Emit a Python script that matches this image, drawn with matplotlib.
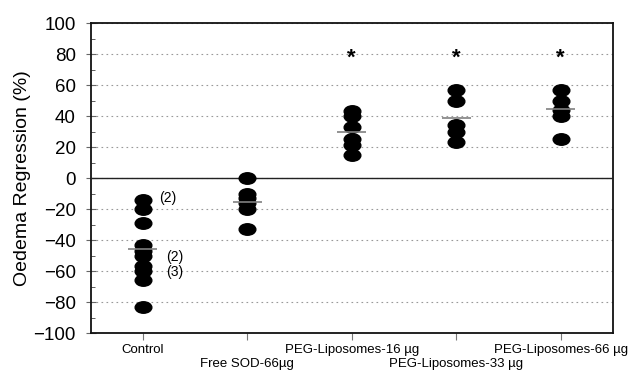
import matplotlib
matplotlib.use('Agg')
import matplotlib.pyplot as plt
from matplotlib.path import Path
from matplotlib.transforms import Affine2D
from matplotlib.ticker import MultipleLocator

plt.rcParams['font.family'] = ['Liberation Sans', 'DejaVu Sans']

groups = ['Control', 'Free SOD-66µg', 'PEG-Liposomes-16 µg',
          'PEG-Liposomes-33 µg', 'PEG-Liposomes-66 µg']
values = [
    [-14, -20, -29, -43, -47, -50, -57, -60, -66, -83],
    [0, -10, -13, -16, -20, -33],
    [43, 40, 33, 25, 21, 15],
    [57, 50, 34, 30, 23],
    [57, 50, 44, 40, 25],
]
means = [-46, -15.5, 30, 38.5, 44.5]
significant = [False, False, True, True, True]
star_level = 80
# (group index, value, label) for repeated points
repeat_labels = [(0, -14, '(2)'), (0, -50, '(2)'), (0, -60, '(3)')]

# flattened ellipse marker
ellipse = Path.unit_circle().transformed(Affine2D().scale(1.45, 1.0))

fig = plt.figure(figsize=(6.33, 3.70), dpi=100)
ax = fig.add_axes([0.1430, 0.100, 0.8254, 0.8378])

for i, vals in enumerate(values):
    ax.plot([i] * len(vals), vals, linestyle='none', marker=ellipse,
            markersize=12, color='black', zorder=4)
    ax.hlines(means[i], i - 0.14, i + 0.14, color='#808080', lw=1.2, zorder=5)
    if significant[i]:
        # asterisk glyph sits high in its box, nudge it down
        ax.annotate('*', (i, star_level), xytext=(0, -3), textcoords='offset points',
                    ha='center', va='center', fontsize=16, fontweight='bold', zorder=5)

for gi, v, lab in repeat_labels:
    dx = 12 if v > -30 else 17
    ax.annotate(lab, (gi, v), xytext=(dx, 1 if v > -30 else -1),
                textcoords='offset points', ha='left', va='center', fontsize=10)

ax.axhline(0, color='#222222', lw=1.0, zorder=3)

ax.set_xlim(-0.5, 4.5)
ax.set_ylim(-100, 100)
ax.yaxis.set_major_locator(MultipleLocator(20))
ax.yaxis.set_minor_locator(MultipleLocator(10))
ax.grid(axis='y', which='major', linestyle=(0, (1.5, 3)), color='#999999', lw=0.8)
ax.set_axisbelow(True)

ax.set_xticks(range(len(groups)))
ax.set_xticklabels(groups, fontsize=9.5)
for i, t in enumerate(ax.get_xticklabels()):
    if i % 2 == 1:
        t.set_y(-0.044)
ax.tick_params(axis='x', direction='out', length=5, color='#777777', pad=3)
ax.tick_params(axis='y', which='major', direction='inout', length=7,
               color='#666666', labelsize=13.5, pad=7)
ax.tick_params(axis='y', which='minor', direction='in', length=3, color='#444444')

ax.set_ylabel('Oedema Regression (%)', fontsize=14, labelpad=2)

for s in ax.spines.values():
    s.set_linewidth(1.3)
    s.set_color('#111111')

plt.savefig('out.png', dpi=100)
plt.close()
